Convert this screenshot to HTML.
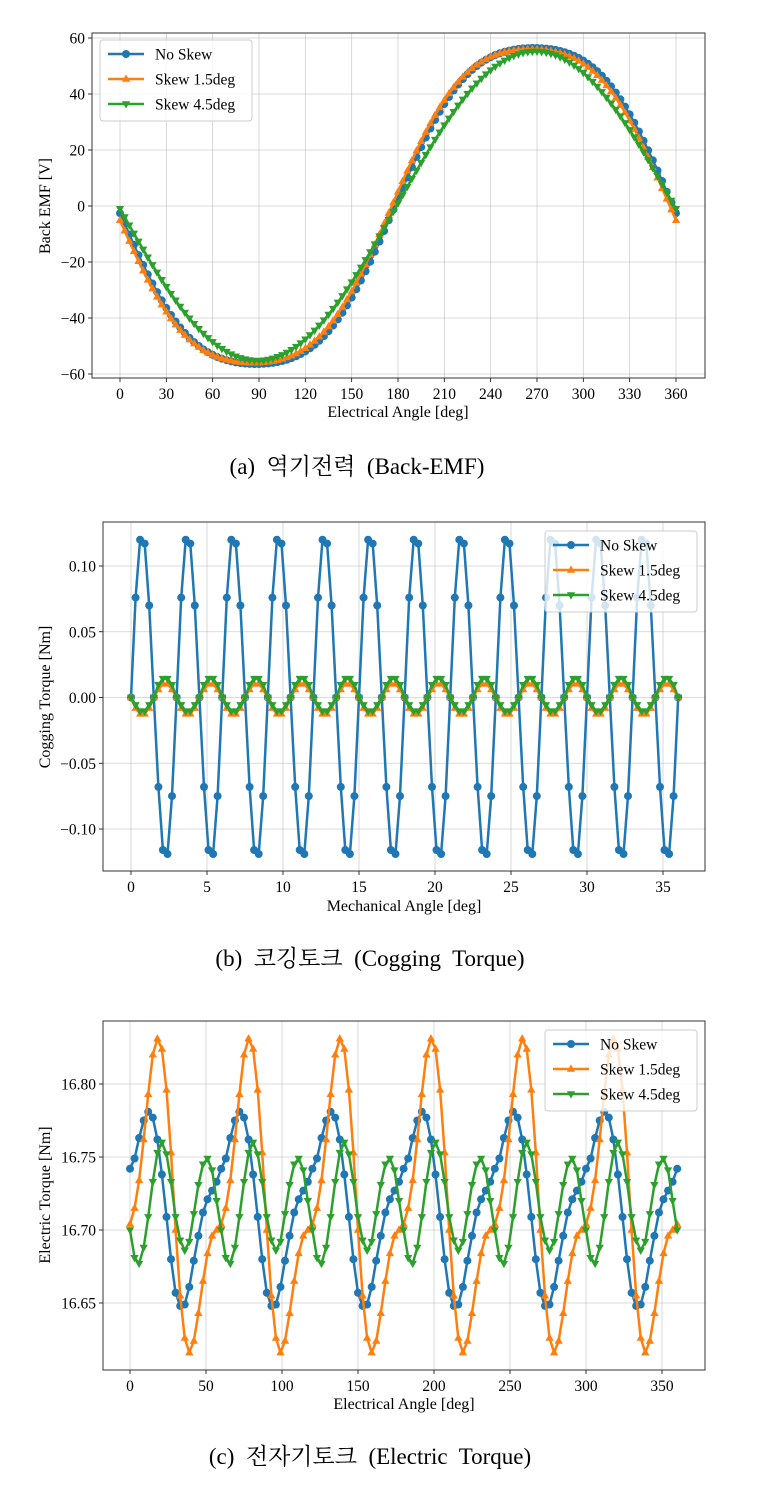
<!DOCTYPE html>
<html><head><meta charset="utf-8">
<style>
html,body{margin:0;padding:0;background:#fff;}
svg{display:block;font-family:"Liberation Serif","Noto Serif CJK KR","Noto Serif CJK SC",serif;}
</style></head>
<body>
<svg id="s" width="757" height="1493" viewBox="0 0 757 1493" xmlns="http://www.w3.org/2000/svg"></svg>
<script>
const S=document.getElementById('s');let h='';
const C=['#1f77b4','#ff7f0e','#2ca02c'];
function marker(t,x,y,c){
 if(t==0)return `<circle cx="${x.toFixed(1)}" cy="${y.toFixed(1)}" r="4" fill="${c}"/>`;
 const r=4.6;
 if(t==1)return `<path d="M${x},${y-r} L${x+r*0.9},${y+r*0.6} L${x-r*0.9},${y+r*0.6}Z" fill="${c}"/>`;
 return `<path d="M${x},${y+r} L${x+r*0.9},${y-r*0.6} L${x-r*0.9},${y-r*0.6}Z" fill="${c}"/>`;
}
function series(pts,t,c){
 let d='M'+pts.map(p=>p[0].toFixed(1)+','+p[1].toFixed(1)).join(' L');
 let o=`<path d="${d}" fill="none" stroke="${c}" stroke-width="2.5" stroke-linejoin="round"/>`;
 for(const p of pts)o+=marker(t,p[0],p[1],c);return o;
}
function axes(a){
 let o='';
 for(const [v,lab] of a.xt){const x=a.fx(v);o+=`<line x1="${x}" y1="${a.t}" x2="${x}" y2="${a.b}" stroke="#b0b0b0" stroke-width="0.8" opacity="0.6"/>`;
  o+=`<line x1="${x}" y1="${a.b}" x2="${x}" y2="${a.b+4}" stroke="#000" stroke-width="0.8"/><text x="${x}" y="${a.b+21}" font-size="15.5" text-anchor="middle">${lab}</text>`;}
 for(const [v,lab] of a.yt){const y=a.fy(v);o+=`<line x1="${a.l}" y1="${y}" x2="${a.r}" y2="${y}" stroke="#b0b0b0" stroke-width="0.8" opacity="0.6"/>`;
  o+=`<line x1="${a.l-4}" y1="${y}" x2="${a.l}" y2="${y}" stroke="#000" stroke-width="0.8"/><text x="${a.l-7}" y="${y+5.5}" font-size="15.5" text-anchor="end">${lab}</text>`;}
 return o;
}
function frame(a){return `<rect x="${a.l}" y="${a.t}" width="${a.r-a.l}" height="${a.b-a.t}" fill="none" stroke="#333" stroke-width="1"/>`;}
function legend(x,y){
 let o=`<rect x="${x}" y="${y}" width="152" height="81" rx="3" fill="#fff" fill-opacity="0.8" stroke="#ccc"/>`;
 const L=['No Skew','Skew 1.5deg','Skew 4.5deg'];
 for(let i=0;i<3;i++){const yy=y+14+i*25;
  o+=`<line x1="${x+8}" y1="${yy}" x2="${x+44}" y2="${yy}" stroke="${C[i]}" stroke-width="2.5"/>`+marker(i,x+26,yy,C[i]);
  o+=`<text x="${x+55}" y="${yy+5.5}" font-size="15.5">${L[i]}</text>`;}
 return o;
}
const rad=Math.PI/180;
// Chart 1
{const a={l:92,r:705,t:33,b:378,fx:v=>120+v*1.5444,fy:v=>206-v*2.8};
 a.xt=[];for(let v=0;v<=360;v+=30)a.xt.push([v,v]);
 a.yt=[[60,'60'],[40,'40'],[20,'20'],[0,'0'],[-20,'\u221220'],[-40,'\u221240'],[-60,'\u221260']];
 h+=axes(a);
 const g=(A,s,k)=>p=>-A*(Math.sin(p+s*rad)+k*Math.sin(3*(p+s*rad)));
 const f=[g(60.7,2,0.07),g(60.2,4,0.07),g(55.5,1,0.005)];
 for(let i=0;i<3;i++){const pts=[];for(let v=0;v<=360;v+=3)pts.push([a.fx(v),a.fy(f[i](v*rad))]);h+=series(pts,i,C[i]);}
 h+=frame(a)+legend(100,40);
 h+=`<text x="398" y="417" font-size="16" text-anchor="middle">Electrical Angle [deg]</text>`;
 h+=`<text transform="translate(50,206) rotate(-90)" font-size="16" text-anchor="middle">Back EMF [V]</text>`;
 h+=`<text x="357" y="474" font-size="23" text-anchor="middle">(a)&#160; 역기전력&#160; (Back-EMF)</text>`;
}
// Chart 2
{const a={l:103,r:705,t:522,b:871,fx:v=>131+v*15.2,fy:v=>697.5-v*1315};
 a.xt=[];for(let v=0;v<=35;v+=5)a.xt.push([v,v]);
 a.yt=[[0.1,'0.10'],[0.05,'0.05'],[0,'0.00'],[-0.05,'\u22120.05'],[-0.1,'\u22120.10']];
 h+=axes(a);
 const B=[0,0.076,0.12,0.117,0.07,0,-0.068,-0.116,-0.119,-0.075];
 const f=[k=>B[k%10],k=>-0.012*Math.sin(2*Math.PI*k/10)-0.001*(k%5?1:0),k=>-0.013*Math.sin(2*Math.PI*k/10)+0.002*(k%5?1:0)];
 for(const i of [0,1,2]){const pts=[];for(let k=0;k<=120;k++)pts.push([a.fx(k*0.3),a.fy(f[i](k))]);h+=series(pts,i,C[i]);}
 h+=frame(a)+legend(545,531);
 h+=`<text x="404" y="911" font-size="16" text-anchor="middle">Mechanical Angle [deg]</text>`;
 h+=`<text transform="translate(50,697) rotate(-90)" font-size="16" text-anchor="middle">Cogging Torque [Nm]</text>`;
 h+=`<text x="370" y="966" font-size="23" text-anchor="middle">(b)&#160; 코깅토크&#160; (Cogging&#160; Torque)</text>`;
}
// Chart 3
{const a={l:103,r:705,t:1021,b:1370,fx:v=>130+v*1.52,fy:v=>1084-(v-16.8)/0.05*73};
 a.xt=[];for(let v=0;v<=350;v+=50)a.xt.push([v,v]);
 a.yt=[[16.8,'16.80'],[16.75,'16.75'],[16.7,'16.70'],[16.65,'16.65']];
 h+=axes(a);
 const T=[[16.742,16.749,16.763,16.775,16.781,16.777,16.762,16.738,16.709,16.68,16.657,16.648,16.649,16.661,16.679,16.696,16.712,16.721,16.727,16.733],
 [16.704,16.715,16.734,16.762,16.793,16.82,16.831,16.824,16.796,16.753,16.70,16.655,16.626,16.616,16.624,16.643,16.665,16.684,16.696,16.70],
 [16.70,16.681,16.677,16.688,16.709,16.733,16.753,16.760,16.752,16.733,16.709,16.693,16.686,16.692,16.711,16.731,16.745,16.749,16.741,16.72]];
 for(const i of [0,1,2]){const pts=[];for(let k=0;k<=120;k++)pts.push([a.fx(k*3),a.fy(T[i][k%20])]);h+=series(pts,i,C[i]);}
 h+=frame(a)+legend(545,1030);
 h+=`<text x="404" y="1409" font-size="16" text-anchor="middle">Electrical Angle [deg]</text>`;
 h+=`<text transform="translate(50,1195) rotate(-90)" font-size="16" text-anchor="middle">Electric Torque [Nm]</text>`;
 h+=`<text x="370" y="1464" font-size="23" text-anchor="middle">(c)&#160; 전자기토크&#160; (Electric&#160; Torque)</text>`;
}
S.innerHTML=h;
</script>
</body></html>
